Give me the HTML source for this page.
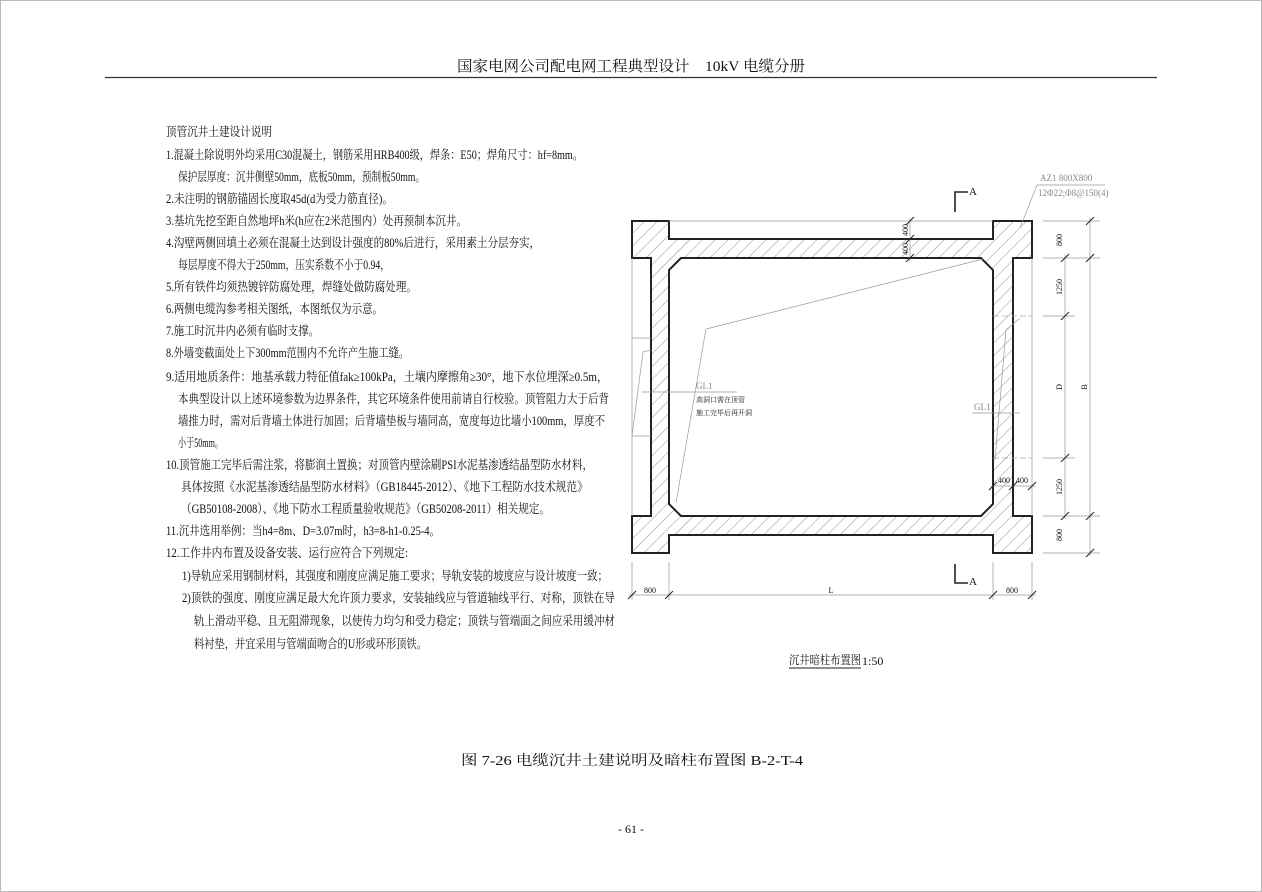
<!DOCTYPE html>
<html><head><meta charset="utf-8">
<style>
html,body{margin:0;padding:0;background:#fff;}
svg{display:block;}
text{font-family:"Liberation Serif","Noto Serif CJK SC",serif;fill:#111;}
.n{font-size:12.5px;}
.d{font-size:8px;fill:#444;font-family:"Liberation Sans Narrow","Liberation Sans",sans-serif;}
.g{fill:#888;}
</style></head><body>
<svg width="1262" height="892" viewBox="0 0 1262 892" xmlns="http://www.w3.org/2000/svg">
<defs>
<pattern id="h" patternUnits="userSpaceOnUse" width="9" height="9" patternTransform="rotate(45)">
<rect width="9" height="9" fill="#fff"/>
<line x1="0" y1="0" x2="0" y2="9" stroke="#777" stroke-width="0.8"/>
</pattern>
</defs>
<rect x="0" y="0" width="1262" height="892" fill="#fff"/>
<rect x="0.5" y="0.5" width="1261" height="891" fill="none" stroke="#bbb" stroke-width="1"/>
<text x="457" y="71" font-size="15" textLength="348" lengthAdjust="spacingAndGlyphs">国家电网公司配电网工程典型设计　10kV 电缆分册</text>
<line x1="105" y1="77.5" x2="1157" y2="77.5" stroke="#333" stroke-width="1.2"/>

<g class="n">
<text x="166" y="136" textLength="106" lengthAdjust="spacingAndGlyphs">顶管沉井土建设计说明</text>
<text x="166" y="159" textLength="417" lengthAdjust="spacingAndGlyphs">1.混凝土除说明外均采用C30混凝土，钢筋采用HRB400级，焊条：E50；焊角尺寸：hf=8mm。</text>
<text x="178" y="181" textLength="247" lengthAdjust="spacingAndGlyphs">保护层厚度：沉井侧壁50mm，底板50mm，预制板50mm。</text>
<text x="166" y="203" textLength="227" lengthAdjust="spacingAndGlyphs">2.未注明的钢筋锚固长度取45d(d为受力筋直径)。</text>
<text x="166" y="225" textLength="301" lengthAdjust="spacingAndGlyphs">3.基坑先挖至距自然地坪h米(h应在2米范围内）处再预制本沉井。</text>
<text x="166" y="247" textLength="374" lengthAdjust="spacingAndGlyphs">4.沟壁两侧回填土必须在混凝土达到设计强度的80%后进行，采用素土分层夯实，</text>
<text x="178" y="269" textLength="212" lengthAdjust="spacingAndGlyphs">每层厚度不得大于250mm，压实系数不小于0.94，</text>
<text x="166" y="291" textLength="251" lengthAdjust="spacingAndGlyphs">5.所有铁件均须热镀锌防腐处理，焊缝处做防腐处理。</text>
<text x="166" y="313" textLength="217" lengthAdjust="spacingAndGlyphs">6.两侧电缆沟参考相关图纸，本图纸仅为示意。</text>
<text x="166" y="335" textLength="153" lengthAdjust="spacingAndGlyphs">7.施工时沉井内必须有临时支撑。</text>
<text x="166" y="357" textLength="243" lengthAdjust="spacingAndGlyphs">8.外墙变截面处上下300mm范围内不允许产生施工缝。</text>
<text x="166" y="381" textLength="442" lengthAdjust="spacingAndGlyphs">9.适用地质条件：地基承载力特征值fak≥100kPa，土壤内摩擦角≥30°，地下水位埋深≥0.5m，</text>
<text x="178" y="403" textLength="431" lengthAdjust="spacingAndGlyphs">本典型设计以上述环境参数为边界条件，其它环境条件使用前请自行校验。顶管阻力大于后背</text>
<text x="178" y="425" textLength="427" lengthAdjust="spacingAndGlyphs">墙推力时，需对后背墙土体进行加固；后背墙垫板与墙同高，宽度每边比墙小100mm，厚度不</text>
<text x="178" y="447" textLength="45" lengthAdjust="spacingAndGlyphs">小于50mm。</text>
<text x="166" y="469" textLength="427" lengthAdjust="spacingAndGlyphs">10.顶管施工完毕后需注浆，将膨润土置换；对顶管内壁涂刷PSI水泥基渗透结晶型防水材料，</text>
<text x="181" y="491" textLength="407" lengthAdjust="spacingAndGlyphs">具体按照《水泥基渗透结晶型防水材料》（GB18445-2012）、《地下工程防水技术规范》</text>
<text x="181" y="513" textLength="369" lengthAdjust="spacingAndGlyphs">（GB50108-2008）、《地下防水工程质量验收规范》（GB50208-2011）相关规定。</text>
<text x="166" y="535" textLength="274" lengthAdjust="spacingAndGlyphs">11.沉井选用举例：当h4=8m、D=3.07m时，h3=8-h1-0.25-4。</text>
<text x="166" y="557" textLength="242" lengthAdjust="spacingAndGlyphs">12.工作井内布置及设备安装、运行应符合下列规定:</text>
<text x="182" y="580" textLength="426" lengthAdjust="spacingAndGlyphs">1)导轨应采用钢制材料，其强度和刚度应满足施工要求；导轨安装的坡度应与设计坡度一致；</text>
<text x="182" y="602" textLength="433" lengthAdjust="spacingAndGlyphs">2)顶铁的强度、刚度应满足最大允许顶力要求，安装轴线应与管道轴线平行、对称，顶铁在导</text>
<text x="194" y="625" textLength="421" lengthAdjust="spacingAndGlyphs">轨上滑动平稳、且无阻滞现象，以使传力均匀和受力稳定；顶铁与管端面之间应采用缓冲材</text>
<text x="194" y="648" textLength="233" lengthAdjust="spacingAndGlyphs">料衬垫，并宜采用与管端面吻合的U形或环形顶铁。</text>
</g>

<path fill="url(#h)" fill-rule="evenodd" stroke="#222" stroke-width="2" d="M632,221 L669,221 L669,239 L993,239 L993,221 L1032,221 L1032,258 L1013,258 L1013,516 L1032,516 L1032,553 L993,553 L993,535 L669,535 L669,553 L632,553 L632,516 L651,516 L651,258 L632,258 Z M681,258 L981,258 L993,270 L993,504 L981,516 L681,516 L669,504 L669,270 Z"/>

<g stroke="#999" stroke-width="0.7" fill="none">
<line x1="669" y1="221" x2="993" y2="221"/>
<line x1="632" y1="258" x2="632" y2="516"/>
<line x1="632" y1="338" x2="651" y2="338"/>
<line x1="632" y1="436" x2="651" y2="436"/>
<polyline points="632,436 643,352 651,350"/>
<line x1="1032" y1="258" x2="1032" y2="516"/>
<line x1="1043" y1="221" x2="1100" y2="221"/>
<line x1="1043" y1="258" x2="1100" y2="258"/>
<line x1="1043" y1="316" x2="1075" y2="316"/>
<line x1="1043" y1="458" x2="1075" y2="458"/>
<line x1="1043" y1="516" x2="1100" y2="516"/>
<line x1="1043" y1="553" x2="1100" y2="553"/>
<line x1="1065" y1="255" x2="1065" y2="519"/>
<line x1="1090" y1="218" x2="1090" y2="556"/>
<line x1="632" y1="562" x2="632" y2="600"/>
<line x1="669" y1="562" x2="669" y2="600"/>
<line x1="993" y1="562" x2="993" y2="600"/>
<line x1="1032" y1="562" x2="1032" y2="600"/>
<line x1="629" y1="595" x2="1036" y2="595"/>
<line x1="910" y1="218" x2="910" y2="261"/>
<line x1="991" y1="486" x2="1035" y2="486"/>
<polyline points="983,259 706,329 676,503"/>
<line x1="642" y1="392" x2="737" y2="392"/>
<polyline points="1020,318 1006,330 995,460"/>
<line x1="972" y1="413" x2="1020" y2="413"/>
<polyline points="1020,228 1037,185 1105,185"/>
</g>
<g stroke="#aaa" stroke-width="0.7" stroke-dasharray="6,3">
<line x1="993" y1="316" x2="1032" y2="316"/>
<line x1="993" y1="458" x2="1032" y2="458"/>
</g>
<g stroke="#222" stroke-width="1">
<line x1="1061" y1="262" x2="1069" y2="254"/>
<line x1="1061" y1="320" x2="1069" y2="312"/>
<line x1="1061" y1="462" x2="1069" y2="454"/>
<line x1="1061" y1="520" x2="1069" y2="512"/>
<line x1="1086" y1="225" x2="1094" y2="217"/>
<line x1="1086" y1="262" x2="1094" y2="254"/>
<line x1="1086" y1="520" x2="1094" y2="512"/>
<line x1="1086" y1="557" x2="1094" y2="549"/>
<line x1="628" y1="599" x2="636" y2="591"/>
<line x1="665" y1="599" x2="673" y2="591"/>
<line x1="989" y1="599" x2="997" y2="591"/>
<line x1="1028" y1="599" x2="1036" y2="591"/>
<line x1="906" y1="225" x2="914" y2="217"/>
<line x1="906" y1="243" x2="914" y2="235"/>
<line x1="906" y1="262" x2="914" y2="254"/>
<line x1="1009" y1="490" x2="1017" y2="482"/>
<line x1="1028" y1="490" x2="1036" y2="482"/>
<line x1="989" y1="490" x2="997" y2="482"/>
</g>
<g stroke="#222" stroke-width="1.6" fill="none">
<polyline points="955,212 955,192 968,192"/>
<polyline points="955,564 955,583 968,583"/>
</g>
<text x="969" y="195" font-size="11">A</text>
<text x="969" y="585" font-size="11">A</text>

<g class="d">
<text transform="translate(1062,240) rotate(-90)" text-anchor="middle">800</text>
<text transform="translate(1062,287) rotate(-90)" text-anchor="middle">1250</text>
<text transform="translate(1062,387) rotate(-90)" text-anchor="middle">D</text>
<text transform="translate(1062,487) rotate(-90)" text-anchor="middle">1250</text>
<text transform="translate(1062,535) rotate(-90)" text-anchor="middle">800</text>
<text transform="translate(1087,387) rotate(-90)" text-anchor="middle">B</text>
<text transform="translate(908,230) rotate(-90)" text-anchor="middle">400</text>
<text transform="translate(908,249) rotate(-90)" text-anchor="middle">400</text>
<text x="650" y="593" text-anchor="middle">800</text>
<text x="831" y="593" text-anchor="middle">L</text>
<text x="1012" y="593" text-anchor="middle">800</text>
<text x="1004" y="483" text-anchor="middle">400</text>
<text x="1022" y="483" text-anchor="middle">400</text>
<text x="696" y="389" class="g" font-size="9">GL1</text>
<text x="696" y="402" font-size="7">高洞口需在顶管</text>
<text x="696" y="415" font-size="7">施工完毕后再开洞</text>
<text x="974" y="410" class="g" font-size="9">GL1</text>
<text x="1040" y="181" class="g" font-size="9">AZ1 800X800</text>
<text x="1038" y="196" class="g" font-size="9">12Φ22;Φ8@150(4)</text>
</g>

<text x="789" y="664" font-size="12" textLength="72" lengthAdjust="spacingAndGlyphs">沉井暗柱布置图</text>
<line x1="789" y1="668" x2="861" y2="668" stroke="#222" stroke-width="1"/>
<text x="862" y="665" font-size="12">1:50</text>

<text x="461" y="765" font-size="14" textLength="342" lengthAdjust="spacingAndGlyphs">图 7-26  电缆沉井土建说明及暗柱布置图 B-2-T-4</text>
<text x="631" y="833" font-size="12" text-anchor="middle">- 61 -</text>
</svg>
</body></html>
